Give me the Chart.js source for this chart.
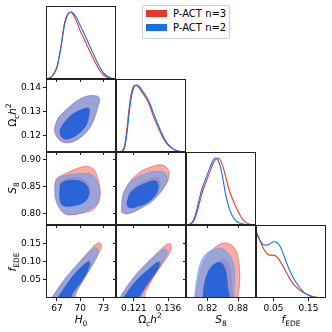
<!DOCTYPE html>
<html>
<head>
<meta charset="utf-8">
<script src="https://cdn.jsdelivr.net/npm/chart.js@4.4.1/dist/chart.umd.min.js"></script>
<style>
  body { margin: 0; background: #fff; }
  #wrap { position: relative; width: 332px; height: 332px; font-family: 'DejaVu Sans', sans-serif; overflow: hidden; }
  #wrap canvas { position: absolute; left: 0; top: 0; }
  .lab { position: absolute; font-size: 10.5px; white-space: nowrap; color: #000; transform: translate(-50%, -50%); line-height: 1; }
  .lab.rot { transform: translate(-50%, -50%) rotate(-90deg); }
  .lab i { font-style: oblique; }
  .lab sub, .lab sup { font-size: 7.5px; line-height: 0; }
  #legend { position: absolute; left: 142px; top: 5px; width: 86px; height: 32px; border: 1px solid #d0d0d0; border-radius: 2px; background: #fff; font-size: 10px; }
  #legend .sw { position: absolute; left: 3px; width: 21px; height: 7px; }
  #legend .tx { position: absolute; left: 30px; line-height: 1; }
</style>
</head>
<body>
<div id="wrap">
  <div id="legend">
    <div class="sw" style="top:4px;background:#e43a2b"></div><div class="tx" style="top:3px">P-ACT n=3</div>
    <div class="sw" style="top:18px;background:#1670e6"></div><div class="tx" style="top:17px">P-ACT n=2</div>
  </div>
  <div class="lab" style="left:81px;top:319px"><i>H</i><sub>0</sub></div>
  <div class="lab" style="left:150px;top:319px">Ω<sub><i>c</i></sub><i>h</i><sup>2</sup></div>
  <div class="lab" style="left:221px;top:319px"><i>S</i><sub>8</sub></div>
  <div class="lab" style="left:291px;top:319px"><i>f</i><sub>EDE</sub></div>
  <div class="lab rot" style="left:12px;top:115px">Ω<sub><i>c</i></sub><i>h</i><sup>2</sup></div>
  <div class="lab rot" style="left:12px;top:188px"><i>S</i><sub>8</sub></div>
  <div class="lab rot" style="left:12px;top:262px"><i>f</i><sub>EDE</sub></div>
</div>
<script>
// ---- 1D marginals (normalised to peak 1) ----
const h0Grid = [65.6, 66.0, 66.5, 67.0, 67.5, 68.0, 68.4, 68.8, 69.2, 69.6, 70.0, 70.5, 71.0, 71.5, 72.0, 72.5, 73.0, 73.5, 74.0, 74.6];
const h0Red  = [0, 0.01, 0.06, 0.18, 0.47, 0.85, 0.97, 1.0, 0.94, 0.84, 0.72, 0.60, 0.47, 0.35, 0.23, 0.13, 0.06, 0.025, 0.008, 0];
const h0Blue = [0, 0.01, 0.06, 0.17, 0.45, 0.82, 0.96, 1.0, 0.97, 0.90, 0.80, 0.68, 0.55, 0.42, 0.30, 0.18, 0.09, 0.04, 0.012, 0];

const omGrid = [0.1132, 0.115, 0.116, 0.117, 0.118, 0.119, 0.120, 0.121, 0.122, 0.123, 0.124, 0.125, 0.126, 0.127, 0.128, 0.129, 0.130, 0.131, 0.132, 0.133, 0.134, 0.135, 0.136, 0.137, 0.138, 0.139, 0.140, 0.141, 0.142, 0.1437];
const omRed  = [0, 0.005, 0.02, 0.10, 0.36, 0.68, 0.90, 0.99, 1.0, 0.97, 0.92, 0.87, 0.82, 0.76, 0.68, 0.58, 0.49, 0.41, 0.33, 0.26, 0.19, 0.14, 0.10, 0.07, 0.05, 0.03, 0.015, 0.007, 0.003, 0];
const omBlue = [0, 0.004, 0.015, 0.07, 0.28, 0.60, 0.84, 0.96, 1.0, 0.99, 0.95, 0.90, 0.85, 0.79, 0.72, 0.63, 0.54, 0.45, 0.37, 0.29, 0.22, 0.16, 0.11, 0.08, 0.05, 0.03, 0.017, 0.008, 0.003, 0];

const s8Grid = [0.778, 0.785, 0.79, 0.795, 0.80, 0.805, 0.81, 0.815, 0.82, 0.825, 0.83, 0.835, 0.84, 0.845, 0.85, 0.855, 0.86, 0.865, 0.87, 0.875, 0.88, 0.885, 0.89, 0.895, 0.90, 0.905, 0.915];
const s8Red  = [0, 0.008, 0.03, 0.09, 0.20, 0.35, 0.49, 0.60, 0.70, 0.80, 0.90, 0.97, 1.0, 0.97, 0.88, 0.74, 0.59, 0.47, 0.37, 0.28, 0.20, 0.13, 0.075, 0.04, 0.018, 0.007, 0];
const s8Blue = [0, 0.01, 0.04, 0.12, 0.26, 0.42, 0.56, 0.66, 0.76, 0.86, 0.95, 1.0, 0.97, 0.88, 0.70, 0.48, 0.32, 0.20, 0.12, 0.07, 0.04, 0.025, 0.015, 0.008, 0.004, 0.002, 0];

const fedeGrid = [0, 0.01, 0.02, 0.03, 0.04, 0.05, 0.06, 0.07, 0.08, 0.09, 0.10, 0.11, 0.12, 0.13, 0.14, 0.15, 0.16, 0.17, 0.18, 0.19, 0.2];
const fedeRed  = [1.0, 0.88, 0.75, 0.67, 0.64, 0.64, 0.61, 0.54, 0.45, 0.35, 0.26, 0.19, 0.14, 0.10, 0.07, 0.045, 0.027, 0.015, 0.007, 0.003, 0];
const fedeBlue = [0.98, 0.87, 0.80, 0.79, 0.81, 0.84, 0.83, 0.76, 0.63, 0.49, 0.37, 0.27, 0.19, 0.12, 0.07, 0.04, 0.02, 0.008, 0.003, 0.001, 0];

// ---- 2D contours (68% and 95%), [x, y] in parameter units ----
const h0OmRed95  = [[66.65,0.1228],[67.12,0.1270],[67.80,0.1296],[68.65,0.1321],[69.55,0.1344],[70.45,0.1359],[71.22,0.1366],[72.10,0.1364],[72.45,0.1351],[72.22,0.1321],[71.82,0.1279],[71.18,0.1233],[70.18,0.1197],[69.15,0.1176],[68.15,0.1170],[67.40,0.1180],[66.88,0.1201]];
const h0OmRed68  = [[67.33,0.1222],[67.78,0.1246],[68.42,0.1271],[69.18,0.1292],[69.95,0.1304],[70.70,0.1313],[71.08,0.1309],[71.00,0.1279],[70.68,0.1242],[69.92,0.1212],[69.03,0.1193],[68.15,0.1184],[67.52,0.1195]];
const h0OmBlue95 = [[66.70,0.1231],[67.18,0.1274],[67.86,0.1299],[68.72,0.1324],[69.62,0.1347],[70.52,0.1362],[71.29,0.1368],[72.19,0.1366],[72.52,0.1353],[72.32,0.1324],[71.94,0.1282],[71.29,0.1236],[70.27,0.1199],[69.24,0.1178],[68.21,0.1172],[67.44,0.1182],[66.92,0.1203]];
const h0OmBlue68 = [[67.37,0.1224],[67.82,0.1249],[68.47,0.1274],[69.24,0.1295],[70.01,0.1307],[70.78,0.1316],[71.17,0.1312],[71.10,0.1282],[70.78,0.1245],[70.01,0.1215],[69.11,0.1195],[68.21,0.1186],[67.57,0.1197]];

const h0S8Red95  = [[66.80,0.832],[66.86,0.862],[67.44,0.870],[68.47,0.877],[69.75,0.885],[71.04,0.888],[71.81,0.881],[72.32,0.862],[72.58,0.840],[72.32,0.819],[71.55,0.806],[70.27,0.800],[68.98,0.797],[68.08,0.798],[67.44,0.810],[66.92,0.825]];
const h0S8Red68  = [[67.44,0.858],[68.21,0.865],[69.50,0.867],[70.60,0.862],[71.17,0.850],[71.20,0.835],[70.60,0.822],[69.50,0.816],[68.21,0.814],[67.57,0.818],[67.37,0.836]];
const h0S8Blue95 = [[66.73,0.831],[66.80,0.859],[67.44,0.868],[68.47,0.872],[69.75,0.874],[70.90,0.875],[71.68,0.870],[72.19,0.859],[72.52,0.840],[72.19,0.819],[71.29,0.808],[70.01,0.800],[68.98,0.798],[67.95,0.800],[67.18,0.812]];
const h0S8Blue68 = [[67.44,0.855],[68.21,0.861],[69.50,0.862],[70.52,0.857],[71.04,0.847],[71.10,0.834],[70.52,0.821],[69.50,0.815],[68.21,0.813],[67.57,0.817],[67.37,0.834]];

const omS8Red95  = [[0.1160,0.802],[0.1164,0.834],[0.1185,0.855],[0.1216,0.870],[0.1250,0.881],[0.1290,0.888],[0.1324,0.891],[0.1350,0.887],[0.1363,0.877],[0.1359,0.862],[0.1333,0.844],[0.1294,0.825],[0.1250,0.812],[0.1207,0.802],[0.1177,0.799]];
const omS8Red68  = [[0.1183,0.826],[0.1197,0.842],[0.1228,0.854],[0.1264,0.862],[0.1300,0.867],[0.1320,0.865],[0.1324,0.851],[0.1305,0.834],[0.1268,0.821],[0.1232,0.814],[0.1200,0.811],[0.1183,0.816]];
const omS8Blue95 = [[0.1155,0.802],[0.1160,0.832],[0.1181,0.851],[0.1211,0.864],[0.1246,0.872],[0.1281,0.877],[0.1315,0.879],[0.1342,0.877],[0.1355,0.868],[0.1350,0.855],[0.1324,0.838],[0.1285,0.821],[0.1242,0.810],[0.1198,0.802],[0.1172,0.799]];
const omS8Blue68 = [[0.1181,0.823],[0.1194,0.838],[0.1224,0.849],[0.1259,0.856],[0.1294,0.861],[0.1311,0.859],[0.1315,0.846],[0.1298,0.831],[0.1264,0.819],[0.1229,0.813],[0.1198,0.810],[0.1181,0.814]];

const h0FedeRed95  = [[66.28,-0.005],[67.57,0.036],[68.85,0.071],[70.14,0.104],[71.16,0.129],[72.06,0.148],[72.58,0.151],[72.71,0.140],[72.19,0.115],[71.29,0.082],[70.40,0.049],[69.50,0.016],[69.24,-0.005]];
const h0FedeRed68  = [[67.00,-0.005],[68.05,0.028],[69.10,0.060],[70.15,0.086],[70.95,0.101],[71.35,0.104],[71.35,0.092],[70.80,0.066],[70.00,0.038],[69.10,0.012],[68.75,-0.005]];
const h0FedeBlue95 = [[66.15,-0.005],[67.44,0.036],[68.72,0.071],[70.01,0.101],[71.04,0.123],[71.81,0.137],[72.19,0.136],[72.32,0.123],[71.81,0.099],[71.04,0.071],[70.14,0.041],[69.37,0.014],[68.98,-0.005]];
const h0FedeBlue68 = [[66.92,-0.005],[67.95,0.027],[68.98,0.058],[70.01,0.082],[70.78,0.096],[71.17,0.099],[71.17,0.088],[70.65,0.063],[69.80,0.036],[68.95,0.011],[68.55,-0.005]];

const omFedeRed95  = [[0.1146,-0.005],[0.1181,0.030],[0.1224,0.066],[0.1277,0.101],[0.1320,0.129],[0.1350,0.145],[0.1368,0.148],[0.1372,0.134],[0.1350,0.107],[0.1311,0.074],[0.1281,0.041],[0.1259,0.014],[0.1250,-0.005]];
const omFedeRed68  = [[0.1162,-0.005],[0.1198,0.028],[0.1242,0.060],[0.1287,0.086],[0.1314,0.101],[0.1328,0.102],[0.1324,0.086],[0.1297,0.060],[0.1265,0.031],[0.1234,0.000],[0.1229,-0.005]];
const omFedeBlue95 = [[0.1142,-0.005],[0.1177,0.030],[0.1220,0.066],[0.1272,0.099],[0.1316,0.123],[0.1342,0.134],[0.1355,0.129],[0.1346,0.110],[0.1316,0.082],[0.1281,0.052],[0.1250,0.022],[0.1237,-0.005]];
const omFedeBlue68 = [[0.1159,-0.005],[0.1194,0.027],[0.1237,0.058],[0.1281,0.082],[0.1307,0.096],[0.1320,0.097],[0.1316,0.082],[0.1290,0.058],[0.1259,0.030],[0.1229,0.000],[0.1224,-0.005]];

const s8FedeRed95  = [[0.797,-0.005],[0.800,0.03],[0.806,0.07],[0.815,0.105],[0.828,0.130],[0.842,0.146],[0.855,0.151],[0.866,0.146],[0.875,0.132],[0.880,0.11],[0.883,0.075],[0.883,0.04],[0.880,0.01],[0.878,-0.005]];
const s8FedeRed68  = [[0.816,-0.005],[0.819,0.03],[0.825,0.065],[0.834,0.09],[0.846,0.104],[0.856,0.103],[0.863,0.085],[0.867,0.055],[0.868,0.02],[0.868,-0.005]];
const s8FedeBlue95 = [[0.794,-0.005],[0.796,0.02],[0.799,0.05],[0.803,0.08],[0.809,0.105],[0.818,0.122],[0.830,0.132],[0.842,0.136],[0.852,0.133],[0.860,0.124],[0.867,0.108],[0.872,0.085],[0.873,0.05],[0.872,0.02],[0.870,-0.005]];
const s8FedeBlue68 = [[0.811,-0.005],[0.813,0.03],[0.818,0.06],[0.826,0.083],[0.836,0.095],[0.845,0.097],[0.852,0.088],[0.857,0.065],[0.859,0.035],[0.860,-0.005]];

// ---- ticks ----
const h0Ticks = [67, 70, 73];
const h0Labels = ['67', '70', '73'];
const omXTicks = [0.121, 0.136];
const omXLabels = ['0.121', '0.136'];
const omYTicks = [0.12, 0.13, 0.14];
const omYLabels = ['0.12', '0.13', '0.14'];
const s8XTicks = [0.82, 0.88];
const s8XLabels = ['0.82', '0.88'];
const s8YTicks = [0.80, 0.85, 0.90];
const s8YLabels = ['0.80', '0.85', '0.90'];
const fedeXTicks = [0.05, 0.15];
const fedeXLabels = ['0.05', '0.15'];
const fedeYTicks = [0.05, 0.10, 0.15];
const fedeYLabels = ['0.05', '0.10', '0.15'];

const RED = '#e43a2b', BLUE = '#1670e6';
const colLeft = [46, 116, 186, 256], rowTop = [6, 79, 152, 225];
const PW = 70, PH = 73, AXY = 34, AXX = 20;

const H0x = { min: 65.6, max: 74.6, ticks: h0Ticks, labels: h0Labels };
const OMx = { min: 0.1132, max: 0.1437, ticks: omXTicks, labels: omXLabels };
const S8x = { min: 0.778, max: 0.915, ticks: s8XTicks, labels: s8XLabels };
const FEx = { min: 0, max: 0.2, ticks: fedeXTicks, labels: fedeXLabels };
const OMy = { min: 0.1132, max: 0.1437, ticks: omYTicks, labels: omYLabels };
const S8y = { min: 0.778, max: 0.915, ticks: s8YTicks, labels: s8YLabels };
const FEy = { min: 0, max: 0.2, ticks: fedeYTicks, labels: fedeYLabels };

function axis(spec, showLabels, isY) {
  return {
    type: 'linear', position: isY ? 'left' : 'bottom', min: spec.min, max: spec.max,
    afterBuildTicks: s => { s.ticks = spec.ticks.map(v => ({ value: v })); },
    afterFit: s => { if (isY) s.width = AXY; else s.height = AXX; },
    ticks: { display: showLabels, autoSkip: false, maxRotation: 0, padding: 2, color: '#000',
             font: { family: 'DejaVu Sans', size: 9 }, callback: (v, i) => spec.labels[i] },
    grid: { drawOnChartArea: false, drawTicks: true, tickLength: 3, color: '#222', lineWidth: 1 },
    border: { display: false }
  };
}

function curve(xs, ys, color) {
  return { data: xs.map((x, i) => ({ x: x, y: ys[i] })), showLine: true, borderColor: color,
           borderWidth: 1.1, pointRadius: 0, fill: false, cubicInterpolationMode: 'monotone' };
}

function region(pts, fillColor, lineColor, order) {
  const d = pts.map(p => ({ x: p[0], y: p[1] }));
  d.push(d[0]);
  return { data: d, showLine: true, borderColor: lineColor, borderWidth: 0.6, backgroundColor: fillColor,
           fill: 'shape', pointRadius: 0, tension: 0.35, order: order };
}

function pair(r95, r68, b95, b68) {
  return [
    region(b68, 'rgba(30,95,215,0.9)', 'rgba(30,95,215,0.9)', 0),
    region(b95, 'rgba(120,160,235,0.72)', 'rgba(90,140,228,0.8)', 1),
    region(r68, 'rgba(225,50,35,0.5)', 'rgba(225,50,35,0.6)', 2),
    region(r95, 'rgba(235,70,55,0.45)', 'rgba(228,58,42,0.8)', 3)
  ];
}

const frame = {
  id: 'frame',
  afterDraw(c) {
    const a = c.chartArea, g = c.ctx;
    g.save();
    g.strokeStyle = '#222';
    g.lineWidth = 1;
    g.strokeRect(a.left + 0.5, a.top + 0.5, a.right - a.left - 1, a.bottom - a.top - 1);
    g.restore();
  }
};

const panels = [
  { r: 0, c: 0, x: H0x, y: null, sets: [curve(h0Grid, h0Blue, BLUE), curve(h0Grid, h0Red, RED)] },
  { r: 1, c: 0, x: H0x, y: OMy, sets: pair(h0OmRed95, h0OmRed68, h0OmBlue95, h0OmBlue68) },
  { r: 1, c: 1, x: OMx, y: null, sets: [curve(omGrid, omBlue, BLUE), curve(omGrid, omRed, RED)] },
  { r: 2, c: 0, x: H0x, y: S8y, sets: pair(h0S8Red95, h0S8Red68, h0S8Blue95, h0S8Blue68) },
  { r: 2, c: 1, x: OMx, y: S8y, sets: pair(omS8Red95, omS8Red68, omS8Blue95, omS8Blue68) },
  { r: 2, c: 2, x: S8x, y: null, sets: [curve(s8Grid, s8Blue, BLUE), curve(s8Grid, s8Red, RED)] },
  { r: 3, c: 0, x: H0x, y: FEy, sets: pair(h0FedeRed95, h0FedeRed68, h0FedeBlue95, h0FedeBlue68) },
  { r: 3, c: 1, x: OMx, y: FEy, sets: pair(omFedeRed95, omFedeRed68, omFedeBlue95, omFedeBlue68) },
  { r: 3, c: 2, x: S8x, y: FEy, sets: pair(s8FedeRed95, s8FedeRed68, s8FedeBlue95, s8FedeBlue68) },
  { r: 3, c: 3, x: FEx, y: null, sets: [curve(fedeGrid, fedeBlue, BLUE), curve(fedeGrid, fedeRed, RED)] }
];

const wrap = document.getElementById('wrap');
panels.forEach(p => {
  const cv = document.createElement('canvas');
  cv.width = 332; cv.height = 332;
  wrap.insertBefore(cv, wrap.firstChild);
  const left = colLeft[p.c], top = rowTop[p.r];
  const yScale = p.y ? axis(p.y, p.c === 0, true) : {
    type: 'linear', min: 0, max: 1.09, position: 'left',
    ticks: { display: false }, grid: { display: false }, border: { display: false },
    afterFit: s => { s.width = AXY; }
  };
  new Chart(cv, {
    type: 'scatter',
    data: { datasets: p.sets },
    options: {
      responsive: false, animation: false, devicePixelRatio: 1,
      layout: { padding: { left: left - AXY, top: top, right: 332 - left - PW, bottom: 332 - top - PH - AXX } },
      plugins: { legend: { display: false }, tooltip: { enabled: false } },
      scales: { x: axis(p.x, p.r === 3, false), y: yScale }
    },
    plugins: [frame]
  });
});
</script>
</body>
</html>
